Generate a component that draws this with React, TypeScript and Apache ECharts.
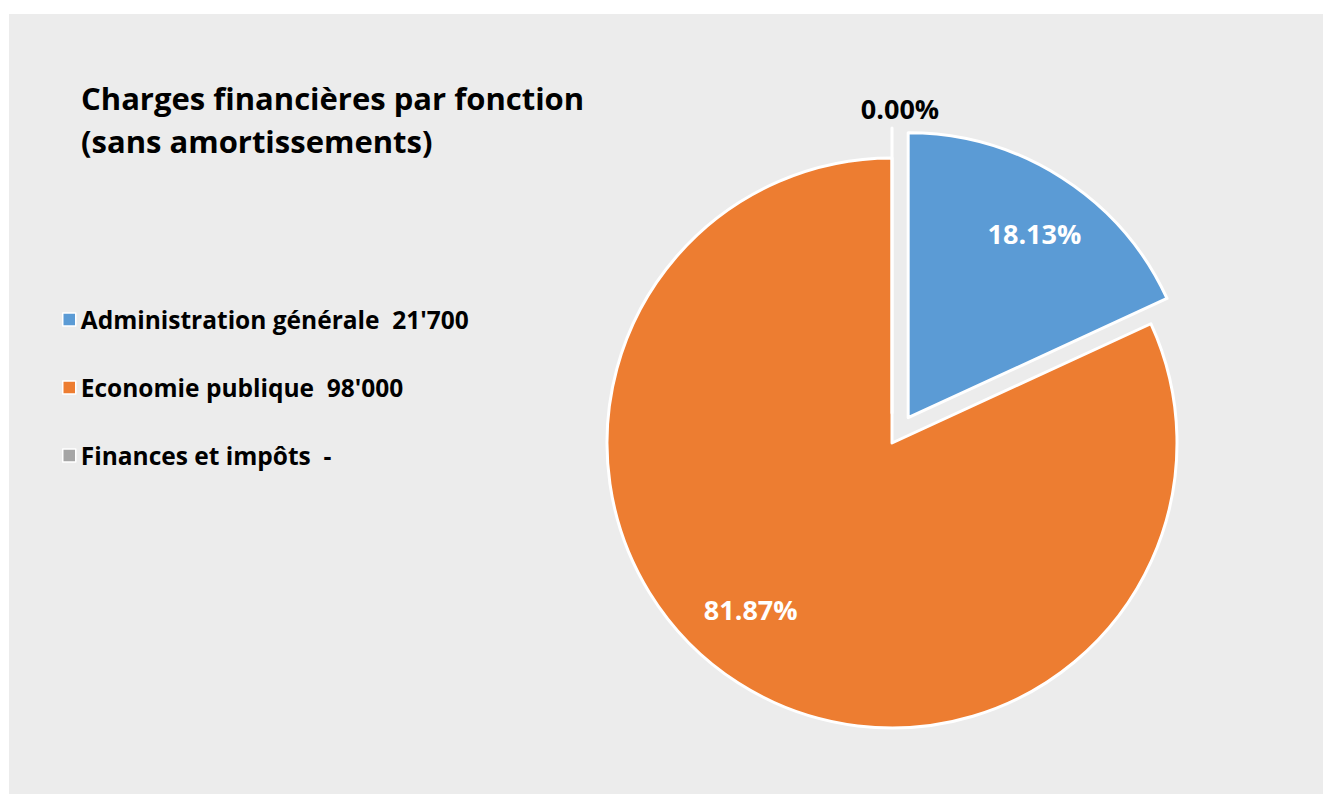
import React, { useEffect, useRef } from 'react';
import * as echarts from 'echarts';

const categories = ['Administration générale', 'Economie publique', 'Finances et impôts'];
const values = [21700, 98000, 0];
const colors = ['#5B9BD5', '#ED7D31', '#A5A5A5'];
const exploded = [true, false, true];
const labelColors = ['#ffffff', '#ffffff', '#000000'];
const titleText = 'Charges financières par fonction\n(sans amortissements)';

// layout constants (not data)
const FONT = '"Open Sans"';
const CX = 892;
const CY = 443;
const R = 285;
const OFFSET = 30;
const labelNudges: [number, number][] = [
  [6, 4],
  [-21, -21],
  [8, -82],
];

const fmtValue = (v: number) => (v === 0 ? '-' : String(v).replace(/\B(?=(\d{3})+(?!\d))/g, "'"));

export default function App() {
  const ref = useRef<HTMLDivElement>(null);
  useEffect(() => {
    if (!ref.current) return;
    const chart = echarts.init(ref.current, undefined, { renderer: 'svg' });
    const mainData = categories.map((name, i) => ({
      name,
      value: values[i],
      selected: exploded[i],
      itemStyle: { color: colors[i] },
    }));
    const labelData = categories.map((name, i) => ({
      name,
      value: values[i],
      selected: exploded[i],
      label: { color: labelColors[i] },
    }));
    chart.setOption({
      animation: false,
      backgroundColor: '#ffffff',
      graphic: [
        {
          type: 'rect',
          z: -10,
          silent: true,
          shape: { x: 9, y: 14, width: 1314, height: 780 },
          style: { fill: '#ececec' },
        },
      ],
      title: {
        text: titleText,
        left: 76,
        top: 71,
        textStyle: {
          fontFamily: FONT,
          fontWeight: 'bold',
          fontSize: 31,
          lineHeight: 43,
          color: '#000000',
        },
      },
      legend: {
        orient: 'vertical',
        left: 57,
        top: 302,
        itemGap: 43,
        itemWidth: 13,
        itemHeight: 13,
        icon: 'rect',
        itemStyle: { borderColor: '#ffffff', borderWidth: 1.5 },
        data: categories,
        formatter: (name: string) => {
          const i = categories.indexOf(name);
          return name + '  ' + fmtValue(values[i]);
        },
        textStyle: {
          fontFamily: FONT,
          fontWeight: 'bold',
          fontSize: 24.5,
          lineHeight: 24,
          color: '#000000',
        },
      },
      series: [
        {
          type: 'pie',
          center: [CX, CY],
          radius: [0, R],
          startAngle: 90,
          clockwise: true,
          selectedMode: 'multiple',
          selectedOffset: OFFSET,
          avoidLabelOverlap: false,
          label: { show: false },
          labelLine: { show: false },
          itemStyle: { borderColor: '#ffffff', borderWidth: 3 },
          emphasis: { disabled: true },
          data: mainData,
        },
        {
          type: 'pie',
          center: [CX, CY],
          radius: [155, R],
          startAngle: 90,
          clockwise: true,
          silent: true,
          selectedMode: 'multiple',
          selectedOffset: OFFSET,
          avoidLabelOverlap: false,
          itemStyle: { color: 'rgba(0,0,0,0)', borderWidth: 0 },
          emphasis: { disabled: true },
          labelLine: { show: false },
          label: {
            show: true,
            position: 'inside',
            fontFamily: FONT,
            fontWeight: 'bold',
            fontSize: 27,
            formatter: (p: any) => p.percent.toFixed(2) + '%',
          },
          labelLayout: (p: any) => ({
            dx: labelNudges[p.dataIndex][0],
            dy: labelNudges[p.dataIndex][1],
          }),
          data: labelData,
        },
      ],
    });
    return () => chart.dispose();
  }, []);
  return (
    <div
      ref={ref}
      style={{ position: 'absolute', left: 0, top: 0, width: 1323, height: 794 }}
    />
  );
}
